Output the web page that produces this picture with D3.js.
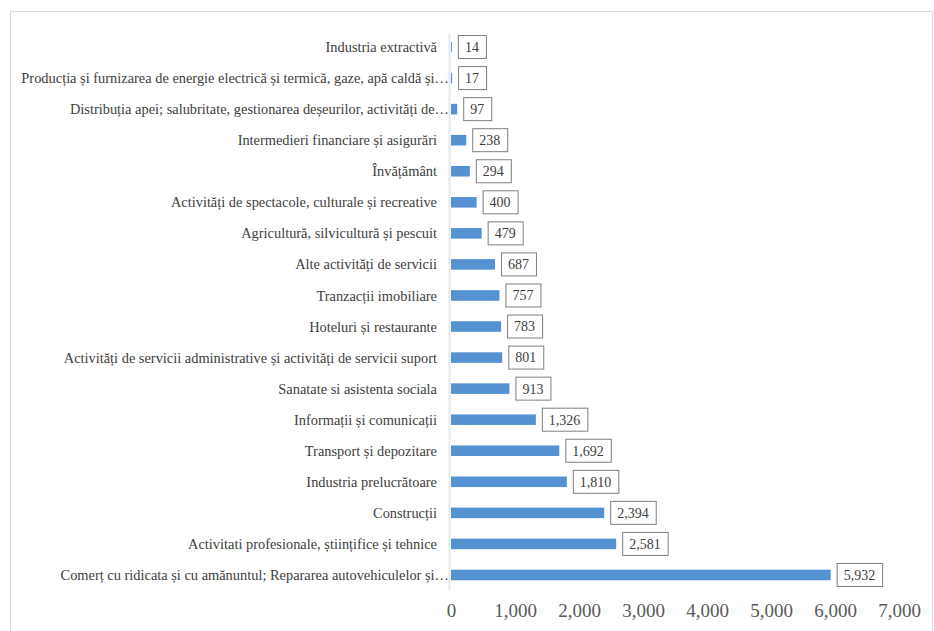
<!DOCTYPE html>
<html>
<head>
<meta charset="utf-8">
<script src="https://cdn.jsdelivr.net/npm/d3@7"></script>
<style>
  body { margin: 0; background: #fff; }
</style>
</head>
<body>
<div class="chart"></div>
<script>
// categories top to bottom
const categories = [
  "Industria extractivă",
  "Producția și furnizarea de energie electrică și termică, gaze, apă caldă și…",
  "Distribuția apei; salubritate, gestionarea deșeurilor, activități de…",
  "Intermedieri financiare și asigurări",
  "Învățământ",
  "Activități de spectacole, culturale și recreative",
  "Agricultură, silvicultură și pescuit",
  "Alte activități de servicii",
  "Tranzacții imobiliare",
  "Hoteluri și restaurante",
  "Activități de servicii administrative și activități de servicii suport",
  "Sanatate si asistenta sociala",
  "Informații și comunicații",
  "Transport și depozitare",
  "Industria prelucrătoare",
  "Construcții",
  "Activitati profesionale, științifice și tehnice",
  "Comerț cu ridicata și cu amănuntul; Repararea autovehiculelor și…"
];
const values = [14, 17, 97, 238, 294, 400, 479, 687, 757, 783, 801, 913, 1326, 1692, 1810, 2394, 2581, 5932];
const xTicks = [0, 1000, 2000, 3000, 4000, 5000, 6000, 7000];

const serif = "\"Liberation Serif\"";
const W = 934, H = 631;
const svg = d3.select(".chart").append("svg")
    .attr("width", W)
    .attr("height", H);

// outer frame
svg.append("rect")
    .attr("x", 10.5).attr("y", 11.5)
    .attr("width", 922).attr("height", 640)
    .attr("fill", "none")
    .attr("stroke", "#d9d9d9");

const x = d3.scaleLinear().domain([0, 7000]).range([451, 899]);
const y = d3.scaleBand().domain(categories).range([31.5, 590.5]).paddingInner(0.66).paddingOuter(0.33);

// vertical axis line
svg.append("line")
    .attr("x1", 449.5).attr("x2", 449.5)
    .attr("y1", 33).attr("y2", 590)
    .attr("stroke", "#e3e8ef").attr("stroke-width", 2);

// bars
svg.selectAll(".bar")
    .data(values)
    .join("rect")
    .attr("class", "bar")
    .attr("x", x(0))
    .attr("y", (d, i) => y(categories[i]))
    .attr("width", d => x(d) - x(0))
    .attr("height", y.bandwidth())
    .attr("fill", "#5592d2");

// category labels
svg.selectAll(".cat")
    .data(categories)
    .join("text")
    .attr("class", "cat")
    .attr("x", d => d.endsWith("…") ? 449 : 437)
    .attr("y", d => y(d) + y.bandwidth() / 2)
    .attr("dy", "0.35em")
    .attr("text-anchor", "end")
    .style("font-family", serif)
    .style("font-size", "14.4px")
    .attr("fill", "#404040")
    .text(d => d);

// value labels in boxes
const fmt = d3.format(",");
const lab = svg.selectAll(".val")
    .data(values)
    .join("g")
    .attr("class", "val")
    .attr("transform", (d, i) => `translate(${Math.max(x(d), 451) + 6},${y(categories[i]) + y.bandwidth() / 2})`);

lab.append("text")
    .attr("x", 7)
    .attr("dy", "0.35em")
    .style("font-family", serif)
    .style("font-size", "14px")
    .attr("fill", "#404040")
    .text(d => fmt(d));

lab.each(function () {
    const g = d3.select(this);
    const bb = g.select("text").node().getBBox();
    g.insert("rect", "text")
        .attr("x", 0.5)
        .attr("y", -11.5)
        .attr("width", bb.width + 14)
        .attr("height", 23)
        .attr("fill", "#fff")
        .attr("stroke", "#7f7f7f");
});

// x axis tick labels
svg.append("g")
    .attr("transform", "translate(0,603)")
    .call(d3.axisBottom(x).tickValues(xTicks).tickFormat(fmt).tickSize(0).tickPadding(0))
    .call(g => g.select(".domain").remove())
    .selectAll("text")
    .style("font-size", "19px")
    .style("font-family", serif)
    .attr("fill", "#595959");
</script>
</body>
</html>
